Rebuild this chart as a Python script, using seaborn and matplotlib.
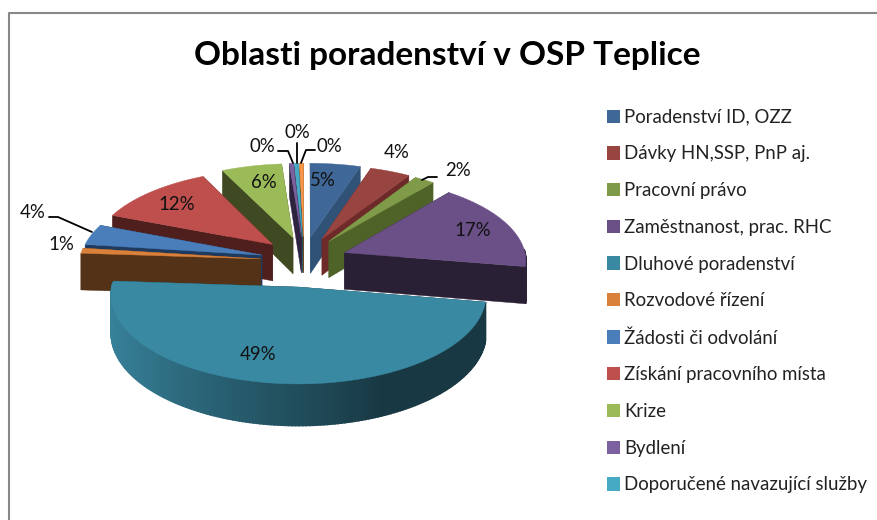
import numpy as np
import matplotlib
matplotlib.use("Agg")
import matplotlib.pyplot as plt
from matplotlib.colors import to_rgb
from matplotlib.patches import Patch
import seaborn as sns

categories = ["Poradenství ID, OZZ", "Dávky HN,SSP, PnP aj.", "Pracovní právo",
              "Zaměstnanost, prac. RHC", "Dluhové poradenství", "Rozvodové řízení",
              "Žádosti či odvolání", "Získání pracovního místa", "Krize", "Bydlení",
              "Doporučené navazující služby", ""]
values = [5, 4, 2, 17, 49, 1, 4, 12, 6, 0.4, 0.4, 0.4]
pct_labels = ["5%", "4%", "2%", "17%", "49%", "1%", "4%", "12%", "6%", "0%", "0%", "0%"]

top_colors = ["#3F6797", "#984441", "#7F9A48", "#6A5087", "#3A89A3", "#D9803A",
              "#4A7EBB", "#BE4F4C", "#9BBB59", "#7D60A0", "#46AAC5", "#F79646"]
side_colors = ["#2F5276", "#6D2A28", "#4F6228", "#2A2035", "#183A43", "#543217",
               "#1F3A5F", "#4F1F1D", "#3F4A22", "#2E2440", "#1F4F5C", "#6B3F1C"]

# where the percent labels sit (pixels), and their leader lines
label_xy = [(323, 181), (397, 152), (458, 170), (473, 230), (258, 355), (61, 244),
            (33, 212), (177, 204), (264, 183), (262, 146), (297, 132), (329, 146)]
leaders = [[(49, 217), (58, 217), (92, 232)],
           [(278, 151), (288, 151), (293, 163)],
           [(297, 143), (297, 163)],
           [(315, 150), (306, 150), (301, 163)],
           [(437, 177), (428, 177), (422, 180)]]

CX, CY, R0, KY, PERSP, DEPTH, EXPLODE = 304, 261.4, 182, 84, 0.085, 37, 0.3
EXPLODE_X = 0.8  # sideways the slices move out less than front to back


def project(x, y, z=0.0):
    # pie plane to screen pixels, far side gets smaller
    w = 1 + PERSP * y
    return CX + R0 * x / w, CY - KY * y / w + DEPTH * z / w


def shade(color, f):
    return tuple(c * f for c in to_rgb(color))


sns.set_theme(style="white")
plt.rcParams["font.family"] = ["Lato", "DejaVu Sans"]

fig = plt.figure(figsize=(8.78, 5.2), dpi=100)
ax = fig.add_axes([0, 0, 1, 1])

# let pie work out the wedge angles and explosion, then redraw them extruded
wedges, _ = ax.pie(values, explode=[EXPLODE] * len(values), startangle=90,
                   counterclock=False, colors=sns.color_palette(top_colors))
geom = [(w.center, w.theta1, w.theta2) for w in wedges]
for w in wedges:
    w.remove()
ax.set_aspect("auto")
ax.set_xlim(0, 878)
ax.set_ylim(520, 0)
ax.axis("off")

order = sorted(range(len(values)), key=lambda i: -geom[i][0][1])
for i in order:
    (ox, oy), t1, t2 = geom[i]
    ox = ox * EXPLODE_X
    th = np.radians(np.linspace(t1, t2, max(int(t2 - t1), 2) + 1))
    px = ox + np.cos(th)
    py = oy + np.sin(th)

    # radial cut faces
    for ex, ey in [(px[0], py[0]), (px[-1], py[-1])]:
        a = project(ox, oy)
        b = project(ex, ey)
        c = project(ex, ey, 1)
        d = project(ox, oy, 1)
        ax.fill([a[0], b[0], c[0], d[0]], [a[1], b[1], c[1], d[1]],
                color=side_colors[i], lw=0.3, zorder=2 + order.index(i) * 3)

    # outer rim, one strip per step so it can carry the light falloff
    for k in range(len(th) - 1):
        if np.sin((th[k] + th[k + 1]) / 2) > 0.05:
            continue
        frac = (np.cos((th[k] + th[k + 1]) / 2) + 1) / 2  # 0 left, 1 right
        f = np.interp(frac, [0, 0.25, 0.72, 1], [0.95, 0.74, 0.41, 0.41])
        p = [project(px[k], py[k]), project(px[k + 1], py[k + 1]),
             project(px[k + 1], py[k + 1], 1), project(px[k], py[k], 1)]
        ax.fill(*zip(*p), color=shade(top_colors[i], f), lw=1.2,
                zorder=3 + order.index(i) * 3)

    # top face
    tx, ty = project(np.r_[ox, px], np.r_[oy, py])
    ax.fill(tx, ty, color=top_colors[i], lw=0.3, zorder=4 + order.index(i) * 3)

for (x, y), s in zip(label_xy, pct_labels):
    ax.text(x, y, s, ha="center", va="center", fontsize=13.4, color="#111111", zorder=100)

for line in leaders:
    ax.plot(*zip(*line), color="black", lw=1.3, zorder=101)

ax.text(447.5, 55.5, "Oblasti poradenství v OSP Teplice", ha="center", va="center",
        fontsize=24, fontweight="bold", color="black")

handles = [Patch(facecolor=c, edgecolor="none") for c in top_colors[:11]]
ax.legend(handles, categories[:11], loc="upper left", bbox_to_anchor=(0.691, 0.791),
          frameon=False, fontsize=13.4, handlelength=0.72, handleheight=0.72,
          handletextpad=0.2, labelspacing=1.06, borderpad=0, borderaxespad=0,
          labelcolor="#222222")

# chart frame, only left and top survive the crop
ax.plot([9.5, 9.5, 878], [520, 12.5, 12.5], color="#888888", lw=1.5, zorder=102)

fig.savefig("out.png", dpi=100)
